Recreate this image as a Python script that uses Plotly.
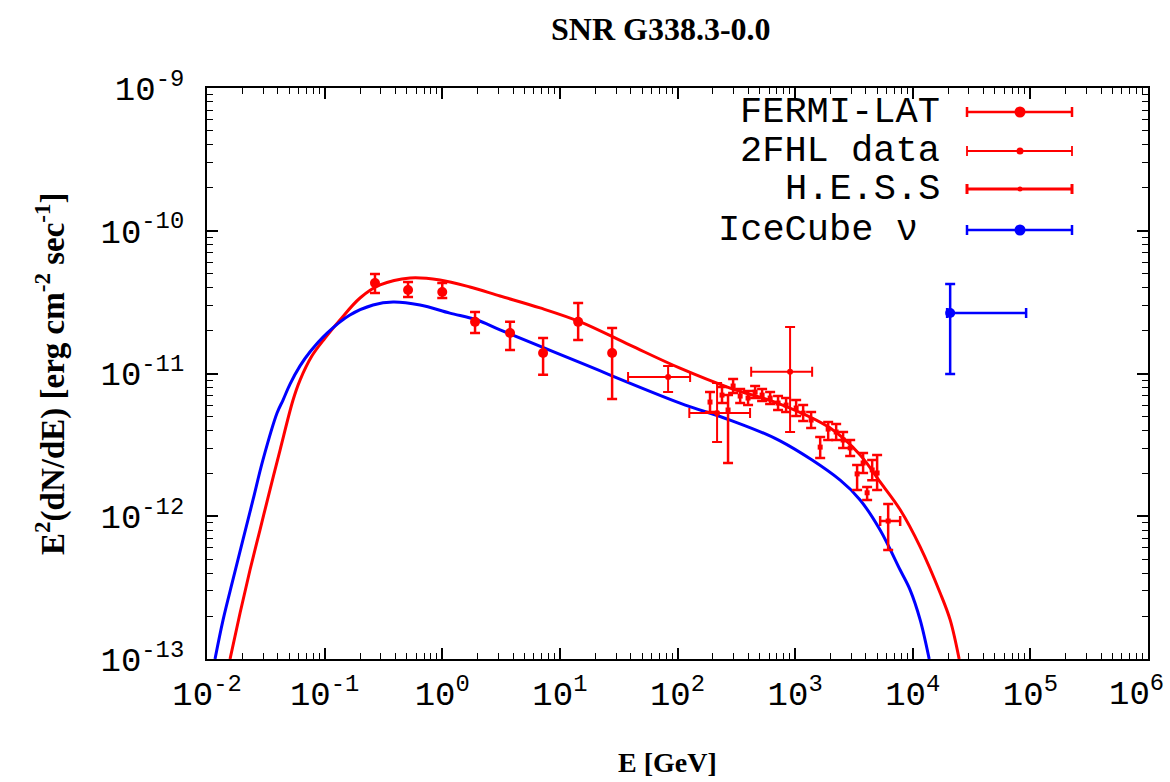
import plotly.graph_objects as go

# ---------------- data ----------------
# FERMI-LAT points (E in GeV, E^2 dN/dE in erg cm^-2 s^-1)
fermi_E = [0.268, 0.512, 1.0, 1.90, 3.77, 7.2, 14.3, 27.8]
fermi_F = [4.31e-11, 3.85e-11, 3.72e-11, 2.30e-11, 1.92e-11, 1.39e-11, 2.30e-11, 1.39e-11]
fermi_Fhi = [4.98e-11, 4.38e-11, 4.31e-11, 2.70e-11, 2.30e-11, 1.77e-11, 3.12e-11, 2.08e-11]
fermi_Flo = [3.66e-11, 3.44e-11, 3.38e-11, 1.92e-11, 1.46e-11, 9.8e-12, 1.72e-11, 6.62e-12]

# 2FHL data
fhl_E = [83.2, 217, 906]
fhl_Elo = [38.0, 126, 423]
fhl_Ehi = [128, 414, 1395]
fhl_F = [9.44e-12, 5.28e-12, 1.03e-11]
fhl_Fhi = [1.13e-11, 8.57e-12, 2.12e-11]
fhl_Flo = [7.41e-12, 3.31e-12, 3.89e-12]

# H.E.S.S points
hess_E = [189, 239, 269, 297, 341, 398, 457, 524, 613, 716, 838, 1020, 1170, 1368,
          1633, 1910, 2233, 2559, 2938, 3365, 3784, 4093, 4519, 4978, 6180]
hess_F = [6.31e-12, 7.06e-12, 5.55e-12, 8.17e-12, 6.95e-12, 6.73e-12, 7.41e-12, 7.06e-12,
          6.73e-12, 6.21e-12, 6.01e-12, 5.73e-12, 5.28e-12, 4.72e-12, 3.05e-12, 4.08e-12,
          3.89e-12, 3.42e-12, 3.01e-12, 1.98e-12, 2.36e-12, 1.46e-12, 2.11e-12, 2.01e-12, 9.26e-13]
hess_Fhi = [7.41e-12, 8.05e-12, 7.06e-12, 9.15e-12, 7.79e-12, 7.54e-12, 8.17e-12, 7.79e-12,
            7.41e-12, 6.95e-12, 6.73e-12, 6.52e-12, 6.01e-12, 5.37e-12, 3.59e-12, 4.57e-12,
            4.43e-12, 3.89e-12, 3.42e-12, 2.29e-12, 2.77e-12, 1.60e-12, 2.48e-12, 2.69e-12, 1.22e-12]
hess_Flo = [5.37e-12, 6.21e-12, 2.36e-12, 7.30e-12, 6.21e-12, 6.01e-12, 6.73e-12, 6.41e-12,
            6.11e-12, 5.55e-12, 5.37e-12, 5.04e-12, 4.65e-12, 4.15e-12, 2.56e-12, 3.42e-12,
            3.42e-12, 3.01e-12, 2.64e-12, 1.53e-12, 2.01e-12, 1.30e-12, 1.79e-12, 1.53e-12, 5.80e-13]
hess_last_Elo = [5284]
hess_last_Ehi = [7816]

# IceCube neutrino point
ice_E = [20800]
ice_Elo = [19600]
ice_Ehi = [92000]
ice_F = [2.65e-11]
ice_Fhi = [4.24e-11]
ice_Flo = [9.93e-12]

# model curves
gamma_E = [0.0157, 0.0191, 0.0232, 0.0282, 0.0343, 0.0418, 0.0539, 0.0618, 0.0781, 0.1008,
           0.135, 0.200, 0.296, 0.532, 0.957, 1.72, 3.10, 6.79, 14.9, 39.5, 105, 280, 745,
           1985, 3570, 5280, 7820, 11560, 17100, 20800, 24800]
gamma_F = [1.0e-13, 2.10e-13, 4.20e-13, 8.01e-13, 1.53e-12, 2.91e-12, 6.52e-12, 8.99e-12,
           1.33e-11, 1.77e-11, 2.37e-11, 3.38e-11, 4.17e-11, 4.67e-11, 4.52e-11, 4.04e-11,
           3.49e-11, 2.88e-11, 2.30e-11, 1.58e-11, 1.09e-11, 7.91e-12, 6.11e-12, 4.15e-12,
           2.69e-12, 1.74e-12, 1.11e-12, 6.10e-13, 2.90e-13, 1.88e-13, 1.0e-13]
nu_E = [0.0117, 0.0137, 0.0166, 0.0202, 0.0246, 0.0299, 0.0394, 0.0443, 0.0508, 0.0618,
        0.0752, 0.105, 0.164, 0.258, 0.382, 0.647, 1.16, 1.98, 3.10, 14.9, 105, 280, 745,
        2415, 3570, 5280, 7820, 9510, 11560, 13800]
nu_F = [1.0e-13, 1.88e-13, 3.58e-13, 6.82e-13, 1.30e-12, 2.48e-12, 5.28e-12, 6.52e-12,
        8.43e-12, 1.13e-11, 1.42e-11, 1.92e-11, 2.57e-11, 3.02e-11, 3.17e-11, 3.02e-11,
        2.65e-11, 2.37e-11, 2.02e-11, 1.19e-11, 6.21e-12, 4.72e-12, 3.37e-12, 1.79e-12,
        1.30e-12, 8.01e-13, 4.20e-13, 3.04e-13, 1.88e-13, 1.0e-13]

x_tick_exp = [-2, -1, 0, 1, 2, 3, 4, 5, 6]
y_tick_exp = [-13, -12, -11, -10, -9]

legend_labels = ["FERMI-LAT", "2FHL data", "H.E.S.S", "IceCube \u03bd"]

# ---------------- styling ----------------
RED = "#ff0000"
BLUE = "#0000ff"
MONO = "Liberation Mono, Courier New, monospace"
SERIF = "Liberation Serif, Times New Roman, serif"

L, R, T, B = 207, 22, 88, 123
W, H = 1170, 782
PW, PH = W - L - R, H - T - B


def up(v, hi):
    return [h - x for x, h in zip(v, hi)]


def dn(v, lo):
    return [x - l for x, l in zip(v, lo)]


fig = go.Figure()

fig.add_trace(go.Scatter(x=gamma_E, y=gamma_F, mode="lines",
                         line=dict(color=RED, width=3, shape="spline", smoothing=1.0),
                         showlegend=False))
fig.add_trace(go.Scatter(x=nu_E, y=nu_F, mode="lines",
                         line=dict(color=BLUE, width=3, shape="spline", smoothing=1.0),
                         showlegend=False))

fig.add_trace(go.Scatter(
    x=fermi_E, y=fermi_F, mode="markers",
    marker=dict(color=RED, size=10, symbol="circle"),
    error_y=dict(type="data", array=up(fermi_F, fermi_Fhi), arrayminus=dn(fermi_F, fermi_Flo),
                 color=RED, thickness=2.5, width=5),
    showlegend=False))

fig.add_trace(go.Scatter(
    x=fhl_E, y=fhl_F, mode="markers",
    marker=dict(color=RED, size=6, symbol="circle"),
    error_y=dict(type="data", array=up(fhl_F, fhl_Fhi), arrayminus=dn(fhl_F, fhl_Flo),
                 color=RED, thickness=2, width=5),
    error_x=dict(type="data", array=up(fhl_E, fhl_Ehi), arrayminus=dn(fhl_E, fhl_Elo),
                 color=RED, thickness=2, width=5),
    showlegend=False))

fig.add_trace(go.Scatter(
    x=hess_E[:-1], y=hess_F[:-1], mode="markers",
    marker=dict(color=RED, size=5, symbol="square"),
    error_y=dict(type="data", array=up(hess_F[:-1], hess_Fhi[:-1]),
                 arrayminus=dn(hess_F[:-1], hess_Flo[:-1]),
                 color=RED, thickness=2.5, width=5),
    showlegend=False))
fig.add_trace(go.Scatter(
    x=hess_E[-1:], y=hess_F[-1:], mode="markers",
    marker=dict(color=RED, size=5, symbol="square"),
    error_y=dict(type="data", array=up(hess_F[-1:], hess_Fhi[-1:]),
                 arrayminus=dn(hess_F[-1:], hess_Flo[-1:]),
                 color=RED, thickness=2.5, width=5),
    error_x=dict(type="data", array=up(hess_E[-1:], hess_last_Ehi),
                 arrayminus=dn(hess_E[-1:], hess_last_Elo),
                 color=RED, thickness=2.5, width=5),
    showlegend=False))

fig.add_trace(go.Scatter(
    x=ice_E, y=ice_F, mode="markers",
    marker=dict(color=BLUE, size=10, symbol="circle"),
    error_y=dict(type="data", array=up(ice_F, ice_Fhi), arrayminus=dn(ice_F, ice_Flo),
                 color=BLUE, thickness=2.5, width=5),
    error_x=dict(type="data", array=up(ice_E, ice_Ehi), arrayminus=dn(ice_E, ice_Elo),
                 color=BLUE, thickness=2.5, width=5),
    showlegend=False))

minor_x = [m * 10.0 ** k for k in range(-2, 6) for m in range(2, 10)]
minor_y = [m * 10.0 ** k for k in range(-13, -9) for m in range(2, 10)]

TICK_FONT = dict(family=MONO, size=34, color="black")

axis_common = dict(
    type="log", showgrid=False, zeroline=False, automargin=False,
    showline=True, linecolor="black", linewidth=2, mirror="allticks",
    ticks="inside", ticklen=11, tickwidth=1.5, tickcolor="black",
    tickfont=TICK_FONT, ticklabeloverflow="allow",
)

# the last x label (10^6) would run past the page edge; it is drawn as an
# annotation pulled slightly left instead
x_ticktext = [f"10<sup>{k}</sup>" if k != x_tick_exp[-1] else "" for k in x_tick_exp]

fig.update_layout(
    width=W, height=H,
    margin=dict(l=L, r=R, t=T, b=B, autoexpand=False),
    paper_bgcolor="white", plot_bgcolor="white",
    showlegend=False,
    xaxis=dict(axis_common, range=[-2, 6],
               tickvals=[10.0 ** k for k in x_tick_exp],
               ticktext=x_ticktext,
               ticklabelstandoff=3,
               minor=dict(ticks="inside", ticklen=6, tickwidth=1, tickcolor="black",
                          tickvals=minor_x, showgrid=False)),
    yaxis=dict(axis_common, range=[-13, -9],
               tickvals=[10.0 ** k for k in y_tick_exp],
               ticktext=[f"10<sup>{k}</sup>" for k in y_tick_exp],
               ticklabelstandoff=14,
               minor=dict(ticks="inside", ticklen=6, tickwidth=1, tickcolor="black",
                          tickvals=minor_y, showgrid=False)),
)


def px_x(x):
    return (x - L) / PW


def px_y(y):
    return (H - B - y) / PH


annotations = [
    dict(text="<b>SNR G338.3-0.0</b>", x=px_x(661), y=px_y(29), xref="paper", yref="paper",
         showarrow=False, xanchor="center", yanchor="middle",
         font=dict(family=SERIF, size=32, color="black")),
    dict(text="<b>E [GeV]</b>", x=px_x(667), y=px_y(762), xref="paper", yref="paper",
         showarrow=False, xanchor="center", yanchor="middle",
         font=dict(family=SERIF, size=28, color="black")),
    dict(text="<b>E<sup>2</sup>(dN/dE) [erg cm<sup>-2</sup> sec<sup>-1</sup>]</b>",
         x=px_x(50), y=px_y(374), xref="paper", yref="paper", textangle=-90,
         showarrow=False, xanchor="center", yanchor="middle",
         font=dict(family=SERIF, size=33, color="black")),
    dict(text=f"10<sup>{x_tick_exp[-1]}</sup>", x=px_x(1166), y=px_y(692),
         xref="paper", yref="paper", showarrow=False, xanchor="right", yanchor="middle",
         font=TICK_FONT),
]

row_y = [112, 151, 189, 230]
row_right = [942, 942, 942, 920]
for lab, yy, xr in zip(legend_labels, row_y, row_right):
    annotations.append(dict(text=lab, x=px_x(xr), y=px_y(yy), xref="paper", yref="paper",
                            showarrow=False, xanchor="right", yanchor="middle",
                            font=dict(family=MONO, size=37, color="black")))

shapes = []
row_style = [(RED, 2.5, 5.5), (RED, 1.8, 3.5), (RED, 3.0, 2.5), (BLUE, 2.5, 5.5)]
for yy, (col, lw, rad) in zip(row_y, row_style):
    shapes.append(dict(type="line", xref="paper", yref="paper",
                       x0=px_x(967), x1=px_x(1072), y0=px_y(yy), y1=px_y(yy),
                       line=dict(color=col, width=lw)))
    for xc in (967, 1072):
        shapes.append(dict(type="line", xref="paper", yref="paper",
                           x0=px_x(xc), x1=px_x(xc), y0=px_y(yy - 5), y1=px_y(yy + 5),
                           line=dict(color=col, width=lw)))
    shapes.append(dict(type="circle", xref="paper", yref="paper",
                       x0=px_x(1020 - rad), x1=px_x(1020 + rad),
                       y0=px_y(yy - rad), y1=px_y(yy + rad),
                       fillcolor=col, line=dict(color=col, width=0)))

fig.update_layout(annotations=annotations, shapes=shapes)

fig.write_html("out.html")
